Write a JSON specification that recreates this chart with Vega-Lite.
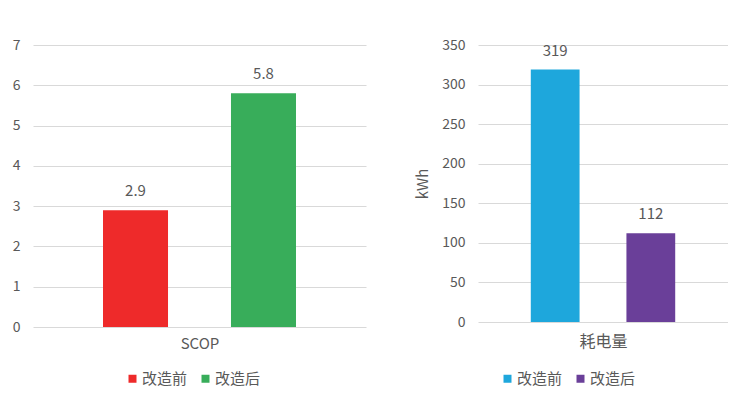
{
  "$schema": "https://vega.github.io/schema/vega-lite/v6.json",
  "padding": {"left": 12, "top": 38, "right": 0, "bottom": 0},
  "background": "white",
  "config": {
    "view": {"stroke": null},
    "font": "Noto Sans CJK SC",
    "axis": {
      "labelColor": "#595959",
      "titleColor": "#595959",
      "labelFontSize": 14,
      "titleFontSize": 15,
      "titleFontWeight": "normal",
      "gridColor": "#D9D9D9",
      "gridWidth": 1,
      "ticks": false,
      "domain": false
    },
    "legend": {
      "labelColor": "#595959",
      "labelFontSize": 15,
      "symbolType": "square",
      "symbolSize": 64,
      "symbolStrokeWidth": 0,
      "labelOffset": 2,
      "columnPadding": 10,
      "padding": 0,
      "direction": "horizontal",
      "orient": "none",
      "title": null
    }
  },
  "spacing": 49,
  "resolve": {"scale": {"color": "independent"}, "legend": {"color": "independent"}},
  "hconcat": [
    {
      "width": 333,
      "height": 282,
      "data": {"values": [
        {"指标": "SCOP", "阶段": "改造前", "值": 2.9},
        {"指标": "SCOP", "阶段": "改造后", "值": 5.8}
      ]},
      "encoding": {
        "x": {"field": "阶段", "type": "nominal", "sort": ["改造前", "改造后"],
          "scale": {"paddingInner": 0.492, "paddingOuter": 0.547},
          "axis": {"labels": false, "title": "SCOP", "titlePadding": 9, "grid": false}},
        "y": {"field": "值", "type": "quantitative", "scale": {"domain": [0, 7]},
          "axis": {"values": [0, 1, 2, 3, 4, 5, 6, 7], "title": null, "labelPadding": 13}}
      },
      "layer": [
        {
          "mark": {"type": "bar"},
          "encoding": {
            "color": {"field": "阶段", "type": "nominal",
              "scale": {"domain": ["改造前", "改造后"], "range": ["#EE2A2A", "#38AD5A"]},
              "legend": {"legendX": 92, "legendY": 326}}
          }
        },
        {
          "mark": {"type": "text", "dy": -19, "fontSize": 15, "color": "#595959", "baseline": "middle"},
          "encoding": {"text": {"field": "值", "type": "quantitative", "format": ".1f"}}
        }
      ]
    },
    {
      "width": 250,
      "height": 277,
      "data": {"values": [
        {"指标": "耗电量", "阶段": "改造前", "值": 319},
        {"指标": "耗电量", "阶段": "改造后", "值": 112}
      ]},
      "encoding": {
        "x": {"field": "阶段", "type": "nominal", "sort": ["改造前", "改造后"],
          "scale": {"paddingInner": 0.49, "paddingOuter": 0.552},
          "axis": {"labels": false, "title": "耗电量", "titleFontSize": 16, "titlePadding": 11, "grid": false}},
        "y": {"field": "值", "type": "quantitative", "scale": {"domain": [0, 350]},
          "axis": {"values": [0, 50, 100, 150, 200, 250, 300, 350], "title": "kWh", "labelPadding": 13, "titlePadding": 11}}
      },
      "layer": [
        {
          "mark": {"type": "bar"},
          "encoding": {
            "color": {"field": "阶段", "type": "nominal",
              "scale": {"domain": ["改造前", "改造后"], "range": ["#1EA7DC", "#6A3F99"]},
              "legend": {"legendX": 22, "legendY": 326}}
          }
        },
        {
          "mark": {"type": "text", "dy": -19, "fontSize": 15, "color": "#595959", "baseline": "middle"},
          "encoding": {"text": {"field": "值", "type": "quantitative", "format": "d"}}
        }
      ]
    }
  ]
}
